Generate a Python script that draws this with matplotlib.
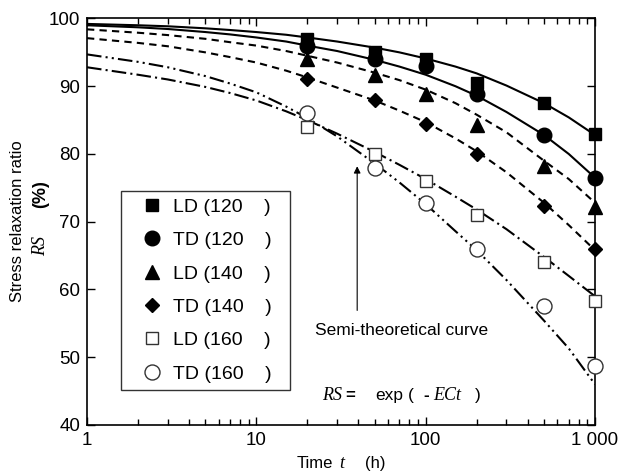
import matplotlib.pyplot as plt
from matplotlib.lines import Line2D

plt.rcParams['font.family'] = ['Liberation Sans', 'DejaVu Sans']

# measured points
t_pts = [20, 50, 100, 200, 500, 1000]
ld120 = [97.0, 95.0, 94.0, 90.5, 87.5, 83.0]
td120 = [96.0, 94.0, 93.0, 88.8, 82.8, 76.5]
ld140 = [94.0, 91.7, 88.8, 84.3, 78.3, 72.2]
td140 = [91.0, 88.0, 84.5, 80.0, 72.3, 66.0]
ld160 = [84.0, 80.0, 76.0, 71.0, 64.0, 58.3]
td160 = [86.0, 78.0, 72.7, 66.0, 57.5, 48.7]

# semi-theoretical curves
t_fit = [1, 2, 3, 5, 7, 10, 15, 20, 30, 50, 70, 100, 150, 200, 300, 500, 700, 1000]
fit_ld120 = [99.2, 99.0, 98.85, 98.55, 98.3, 98.0, 97.6, 97.2, 96.6, 95.7, 95.0, 94.1,
             92.9, 91.9, 90.1, 87.5, 85.4, 82.8]
fit_td120 = [99.0, 98.7, 98.45, 98.0, 97.65, 97.2, 96.6, 96.0, 95.2, 93.9, 92.9, 91.7,
             90.0, 88.6, 86.2, 82.8, 80.0, 76.5]
fit_ld140 = [98.4, 97.9, 97.55, 97.0, 96.5, 96.0, 95.2, 94.5, 93.5, 92.0, 90.9, 89.5,
             87.5, 85.8, 83.2, 79.0, 76.3, 72.8]
fit_td140 = [97.1, 96.4, 95.9, 95.0, 94.3, 93.5, 92.3, 91.3, 89.8, 87.9, 86.4, 84.7,
             82.3, 80.4, 77.3, 72.8, 69.5, 65.8]
fit_ld160 = [92.8, 91.7, 91.0, 89.9, 89.0, 87.9, 86.3, 85.0, 83.0, 80.3, 78.4, 76.3,
             73.7, 71.8, 68.9, 64.8, 62.0, 59.0]
fit_td160 = [94.7, 93.6, 92.8, 91.5, 90.4, 89.1, 87.0, 85.3, 82.6, 78.6, 75.8, 72.6,
             68.6, 65.8, 61.4, 55.4, 51.3, 46.0]

labels = ['LD (120    )', 'TD (120    )', 'LD (140    )', 'TD (140    )', 'LD (160    )', 'TD (160    )']

fig = plt.figure(figsize=(6.18, 4.73), dpi=100)
ax = fig.add_axes([0.1408, 0.1015, 0.822, 0.8594])

lw = 1.5
dash = (0, (3.5, 2.5))
ax.plot(t_fit, fit_ld120, color='black', lw=lw)
ax.plot(t_fit, fit_td120, color='black', lw=lw)
ax.plot(t_fit, fit_ld140, color='black', lw=lw, ls=dash)
ax.plot(t_fit, fit_td140, color='black', lw=lw, ls=dash)
ax.plot(t_fit, fit_ld160, color='black', lw=lw, ls=(0, (7, 2, 1, 2)))
ax.plot(t_fit, fit_td160, color='black', lw=lw, ls=(0, (7, 2, 1, 2, 1, 2)))

styles = [
    dict(marker='s', ms=9, mfc='black', mec='black'),
    dict(marker='o', ms=10.5, mfc='black', mec='black'),
    dict(marker='^', ms=10, mfc='black', mec='black'),
    dict(marker='D', ms=7.5, mfc='black', mec='black'),
    dict(marker='s', ms=9, mfc='white', mec='#333333', mew=1.0),
    dict(marker='o', ms=10.8, mfc='white', mec='#333333', mew=1.0),
]
series = [ld120, td120, ld140, td140, ld160, td160]
for ys, st in zip(series, styles):
    ax.plot(t_pts, ys, ls='none', zorder=3, clip_on=False, **st)

ax.set_xscale('log')
ax.set_xlim(1, 1000)
ax.set_ylim(40, 100)
ax.set_xticks([1, 10, 100, 1000])
ax.set_xticklabels(['1', '10', '100', '1 000'])
ax.set_yticks(range(40, 101, 10))
ax.tick_params(which='both', direction='in', top=True, right=True, labelsize=13.5, width=1)
ax.tick_params(which='major', length=6, pad=5)
ax.tick_params(which='minor', length=4)
for s in ax.spines.values():
    s.set_linewidth(1.2)

# legend (figure space at the end widens the box like the original)
handles = [Line2D([], [], ls='none', **st) for st in styles]
leg = ax.legend(handles, [lab + '\u2007' for lab in labels],
                loc='upper left', bbox_to_anchor=(0.0669, 0.5756),
                fontsize=14, frameon=True, fancybox=False, edgecolor='black',
                handletextpad=-0.1, labelspacing=0.81, borderpad=0.37, handlelength=2.4,
                borderaxespad=0)
leg.get_frame().set_linewidth(1.0)

# annotation
ax.annotate('', xy=(39.4, 78.6), xytext=(39.4, 56.5),
            arrowprops=dict(arrowstyle='-|>', color='black', lw=0.8, mutation_scale=10))
ax.text(22.2, 54.0, 'Semi-theoretical curve', fontsize=12.5, va='center', ha='left')
ax.text(24.4, 44.4, 'RS', fontsize=13, va='center', ha='left', family='Liberation Serif', style='italic')
ax.text(33.3, 44.4, '=', fontsize=12, va='center', ha='left', fontweight='bold')
ax.text(50.3, 44.4, 'exp', fontsize=12.5, va='center', ha='left')
ax.text(78.6, 44.4, '(', fontsize=12.5, va='center', ha='left')
ax.text(97.0, 44.4, '-', fontsize=12.5, va='center', ha='left', fontweight='bold')
ax.text(110.5, 44.4, 'ECt', fontsize=13, va='center', ha='left', family='Liberation Serif', style='italic')
ax.text(195, 44.4, ')', fontsize=12.5, va='center', ha='left')

# axis labels
fig.text(0.029, 0.533, 'Stress relaxation ratio', rotation=90, fontsize=12, ha='center', va='center')
fig.text(0.066, 0.48, 'RS', rotation=90, fontsize=13, ha='center', va='center',
         family='Liberation Serif', style='italic')
fig.text(0.066, 0.59, '(%)', rotation=90, fontsize=13, ha='center', va='center', fontweight='bold')
fig.text(0.510, 0.021, 'Time', fontsize=12, ha='center', va='center')
fig.text(0.553, 0.021, 't', fontsize=13, ha='center', va='center', family='Liberation Serif', style='italic')
fig.text(0.608, 0.021, '(h)', fontsize=12, ha='center', va='center')

fig.savefig('out.png', dpi=100)
